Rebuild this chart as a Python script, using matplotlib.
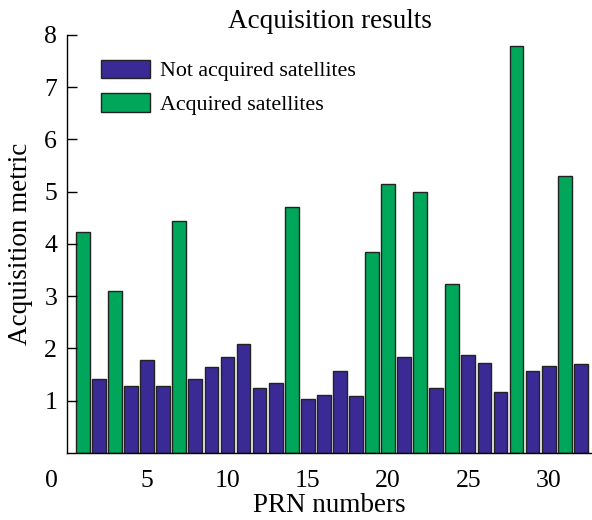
import matplotlib
matplotlib.use('Agg')
import matplotlib.pyplot as plt
import matplotlib.transforms as mtransforms
import numpy as np

# acquisition metric per PRN, split by whether the satellite was acquired
prn = list(range(1, 33))
metric = [4.22, 1.41, 3.10, 1.29, 1.78, 1.29, 4.44, 1.41, 1.64, 1.84,
          2.09, 1.24, 1.34, 4.71, 1.04, 1.11, 1.56, 1.09, 3.85, 5.14,
          1.83, 5.00, 1.24, 3.23, 1.87, 1.72, 1.17, 7.78, 1.56, 1.66,
          5.30, 1.70]
acquired_prn = [1, 3, 7, 14, 19, 20, 22, 24, 28, 31]

blue = '#3a2a96'
green = '#00a65a'

plt.rcParams['font.family'] = ['Liberation Serif', 'DejaVu Serif']

fig = plt.figure(figsize=(5.92, 5.20), dpi=100)
ax = fig.add_axes([0.113, 0.129, 0.887, 0.804])

prn = np.array(prn)
metric = np.array(metric)
is_acq = np.isin(prn, acquired_prn)

ax.bar(prn[~is_acq], metric[~is_acq], width=0.86, color=blue,
       edgecolor='#222222', linewidth=1.0, label='Not acquired satellites')
ax.bar(prn[is_acq], metric[is_acq], width=0.86, color=green,
       edgecolor='#222222', linewidth=1.0, label='Acquired satellites')

ax.set_xlim(0, 32.7)
ax.set_ylim(0, 8)
ax.set_yticks(range(1, 9))
ax.set_xticks([0, 5, 10, 15, 20, 25, 30])

for s in ['top', 'right']:
    ax.spines[s].set_visible(False)
ax.spines['left'].set_linewidth(1.0)
ax.spines['bottom'].set_linewidth(1.0)

ax.tick_params(axis='y', direction='in', length=7, width=1.0, pad=7, labelsize=18.5)
ax.tick_params(axis='x', length=0, pad=12, labelsize=18.5)

# the zero label sits a bit left of the origin
zero_lbl = ax.get_xticklabels()[0]
zero_lbl.set_transform(zero_lbl.get_transform() +
                       mtransforms.ScaledTranslation(-15 / 100, 0, fig.dpi_scale_trans))

ax.set_title('Acquisition results', fontsize=19.5, pad=5)
ax.set_xlabel('PRN numbers', fontsize=19.5, labelpad=1)
ax.set_ylabel('Acquisition metric', fontsize=19.5, labelpad=8)

ax.legend(loc='upper left', bbox_to_anchor=(0.045, 0.967), frameon=False,
          fontsize=15.8, handlelength=2.2, handleheight=0.9,
          labelspacing=0.55, handletextpad=0.45, borderpad=0)

fig.savefig('out.png', dpi=100)
